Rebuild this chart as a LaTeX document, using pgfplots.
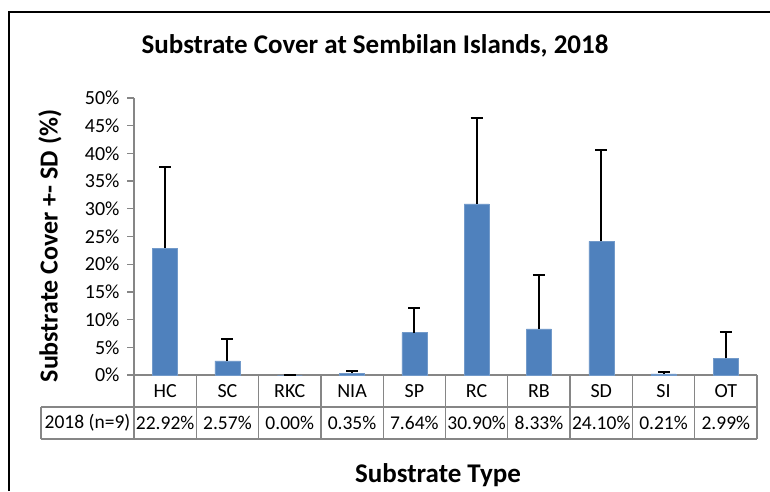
\documentclass[border=0pt]{standalone}
\usepackage{fontspec}
\setmainfont{Carlito}
\usepackage{pgfplots}
\usepackage{pgfplotstable}
\pgfplotsset{compat=1.18}
\definecolor{barblue}{RGB}{79,129,189}
\definecolor{linegray}{RGB}{134,134,134}
\pgfplotstableread{
x val err
0 22.92 14.7
1 2.57 3.9
2 0.00 0.0
3 0.35 0.4
4 7.64 4.4
5 30.90 15.5
6 8.33 9.7
7 24.10 16.5
8 0.21 0.3
9 2.99 4.8
}\datatable
\begin{document}
\begin{tikzpicture}[x=1pt,y=1pt]
\useasboundingbox (0,0) rectangle (770,491);
\draw[line width=1.5pt] (9,0) -- (9,479) -- (770,479);
\begin{axis}[at={(134pt,116pt)}, anchor=south west, scale only axis,
  width=623pt, height=277pt,
  xmin=-0.5, xmax=9.5, ymin=0, ymax=50, ytick={0,5,...,50}, xtick=\empty,
  axis x line*=bottom, axis y line*=left,
  axis line style={linegray, line width=1.3pt, -},
  y tick style={linegray, line width=1.3pt}, tick align=outside, major tick length=7pt,
  yticklabel={\pgfmathprintnumber{\tick}\%},
  /pgf/number format/assume math mode=true,
  ticklabel style={font=\fontsize{20}{23}\selectfont},
  yticklabel style={xshift=-4pt},
  clip=false]
\addplot[ybar, bar width=25pt, fill=barblue, draw=barblue!80!white, line width=0.5pt,
  error bars/.cd, y dir=plus, y explicit,
  error bar style={black, line width=2pt}, error mark options={black, line width=2pt, mark size=6pt, rotate=90}]
  table[x=x, y=val, y error=err] {\datatable};
\end{axis}
% table
\begin{scope}[linegray, line width=1.3pt]
\draw (41,84) -- (757,84);
\draw (41,52) -- (757,52);
\draw (41,52) -- (41,84);
\foreach \k in {0,...,10} {\draw (134+62.3*\k,116) -- (134+62.3*\k,52);}
\end{scope}
\foreach \lab [count=\i from 0] in {HC,SC,RKC,NIA,SP,RC,RB,SD,SI,OT}
  {\node[font=\fontsize{20}{23}\selectfont] at (134+62.3*\i+31.15,100) {\lab};}
\foreach \lab [count=\i from 0] in {22.92\%,2.57\%,0.00\%,0.35\%,7.64\%,30.90\%,8.33\%,24.10\%,0.21\%,2.99\%}
  {\node[font=\fontsize{19.5}{22}\selectfont] at (134+62.3*\i+31.15,68) {\lab};}
\node[font=\fontsize{19.5}{22}\selectfont] at (87.5,68) {2018 (n=9)};
\node[font=\bfseries\fontsize{27}{31}\selectfont] at (375,445) {Substrate Cover at Sembilan Islands, 2018};
\node[font=\bfseries\fontsize{26}{30}\selectfont, rotate=90] at (50,245) {Substrate Cover +- SD (\%)};
\node[font=\bfseries\fontsize{27}{31}\selectfont] at (438,16) {Substrate Type};
\end{tikzpicture}
\end{document}
